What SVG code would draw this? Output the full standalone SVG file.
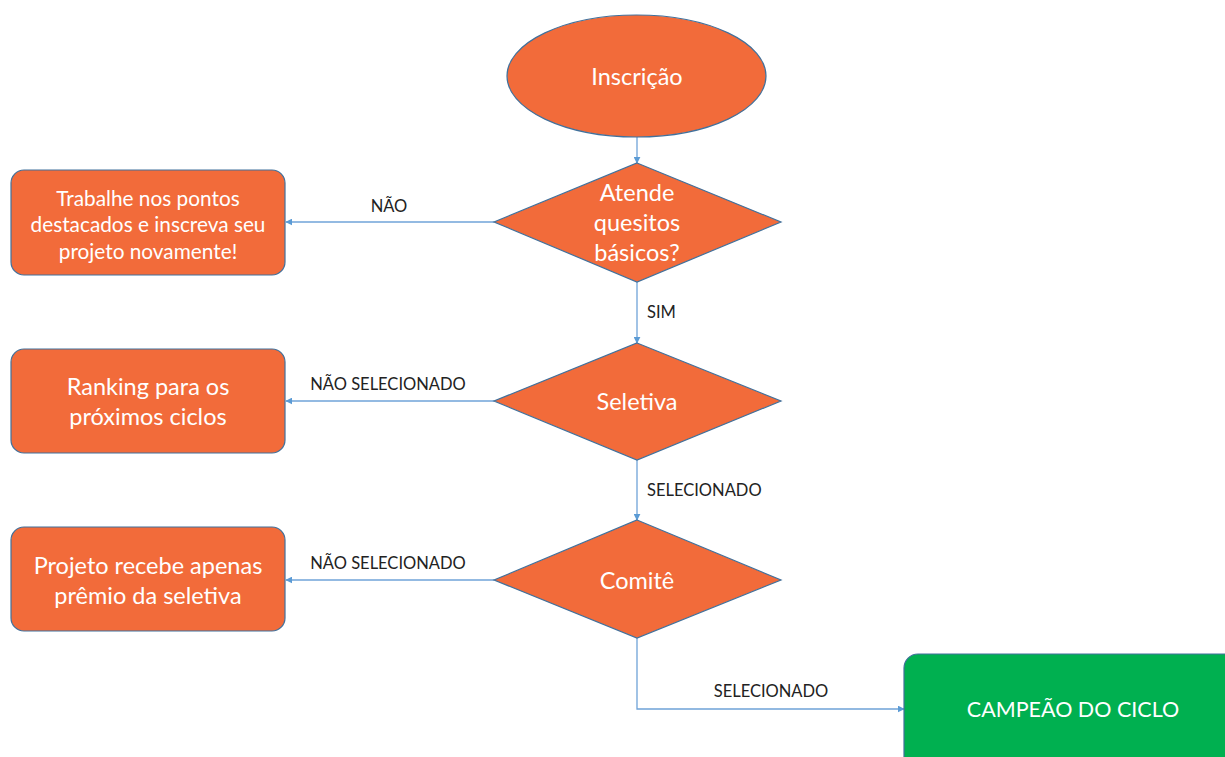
<svg xmlns="http://www.w3.org/2000/svg" width="1225" height="757" viewBox="0 0 1225 757">
<style>
.node{fill:#F26B3A;stroke:#41719C;stroke-width:1.2}
.green{fill:#00B050;stroke:#41719C;stroke-width:1.2}
.t{font-family:Lato,"Open Sans",sans-serif;fill:#fff;text-anchor:middle;dominant-baseline:central}
.lbl{font-family:Lato,"Open Sans",sans-serif;fill:#222;font-size:16.5px;dominant-baseline:central}
.c{fill:none;stroke:#6FA3D8;stroke-width:1.3;marker-end:url(#ah)}
</style>
<defs>
<marker id="ah" viewBox="0 0 10 10" refX="9" refY="5" markerWidth="7" markerHeight="7" orient="auto" markerUnits="userSpaceOnUse">
<path d="M0,0 L10,5 L0,10 z" fill="#5B9BD5"/>
</marker>
</defs>
<rect width="1225" height="757" fill="#fff"/>
<g id="connectors">
<path class="c" d="M637,137 V163"/>
<path class="c" d="M494,222 H286"/>
<path class="c" d="M637,282 V343"/>
<path class="c" d="M494,401 H286"/>
<path class="c" d="M637,460 V520"/>
<path class="c" d="M494,580 H286"/>
<path class="c" d="M637,638 V709 H904"/>
<text class="lbl" x="389" y="206" text-anchor="middle">NÃO</text>
<text class="lbl" x="647" y="312">SIM</text>
<text class="lbl" x="388" y="384" text-anchor="middle">NÃO SELECIONADO</text>
<text class="lbl" x="647" y="490">SELECIONADO</text>
<text class="lbl" x="388" y="563" text-anchor="middle">NÃO SELECIONADO</text>
<text class="lbl" x="771" y="691" text-anchor="middle">SELECIONADO</text>
</g>
<g id="inscricao">
<ellipse class="node" cx="636.5" cy="76" rx="129.5" ry="61"/>
<text class="t" x="637" y="76" font-size="23.5">Inscrição</text>
</g>
<g id="atende">
<polygon class="node" points="637,163 781,222 637,282 494,222"/>
<text class="t" x="637" y="192" font-size="23.5">Atende</text>
<text class="t" x="637" y="222" font-size="23.5">quesitos</text>
<text class="t" x="637" y="252" font-size="23.5">básicos?</text>
</g>
<g id="trabalhe">
<rect class="node" x="11" y="170" width="274" height="105" rx="13"/>
<text class="t" x="148" y="197" font-size="20.8">Trabalhe nos pontos</text>
<text class="t" x="148" y="223" font-size="20.8">destacados e inscreva seu</text>
<text class="t" x="148" y="250" font-size="20.8">projeto novamente!</text>
</g>
<g id="seletiva">
<polygon class="node" points="637,343 781,401 637,460 494,401"/>
<text class="t" x="637" y="401" font-size="23.5">Seletiva</text>
</g>
<g id="ranking">
<rect class="node" x="11" y="349" width="274" height="104" rx="13"/>
<text class="t" x="148" y="386" font-size="23.5">Ranking para os</text>
<text class="t" x="148" y="416" font-size="23.5">próximos ciclos</text>
</g>
<g id="comite">
<polygon class="node" points="637,520 781,580 637,638 494,580"/>
<text class="t" x="637" y="580" font-size="23.5">Comitê</text>
</g>
<g id="projeto">
<rect class="node" x="11" y="527" width="274" height="104" rx="13"/>
<text class="t" x="148" y="565" font-size="23.5">Projeto recebe apenas</text>
<text class="t" x="148" y="595" font-size="23.5">prêmio da seletiva</text>
</g>
<g id="campeao">
<rect class="green" x="904" y="654" width="340" height="120" rx="14"/>
<text class="t" x="1073" y="709" font-size="21.5">CAMPEÃO DO CICLO</text>
</g>
</svg>
